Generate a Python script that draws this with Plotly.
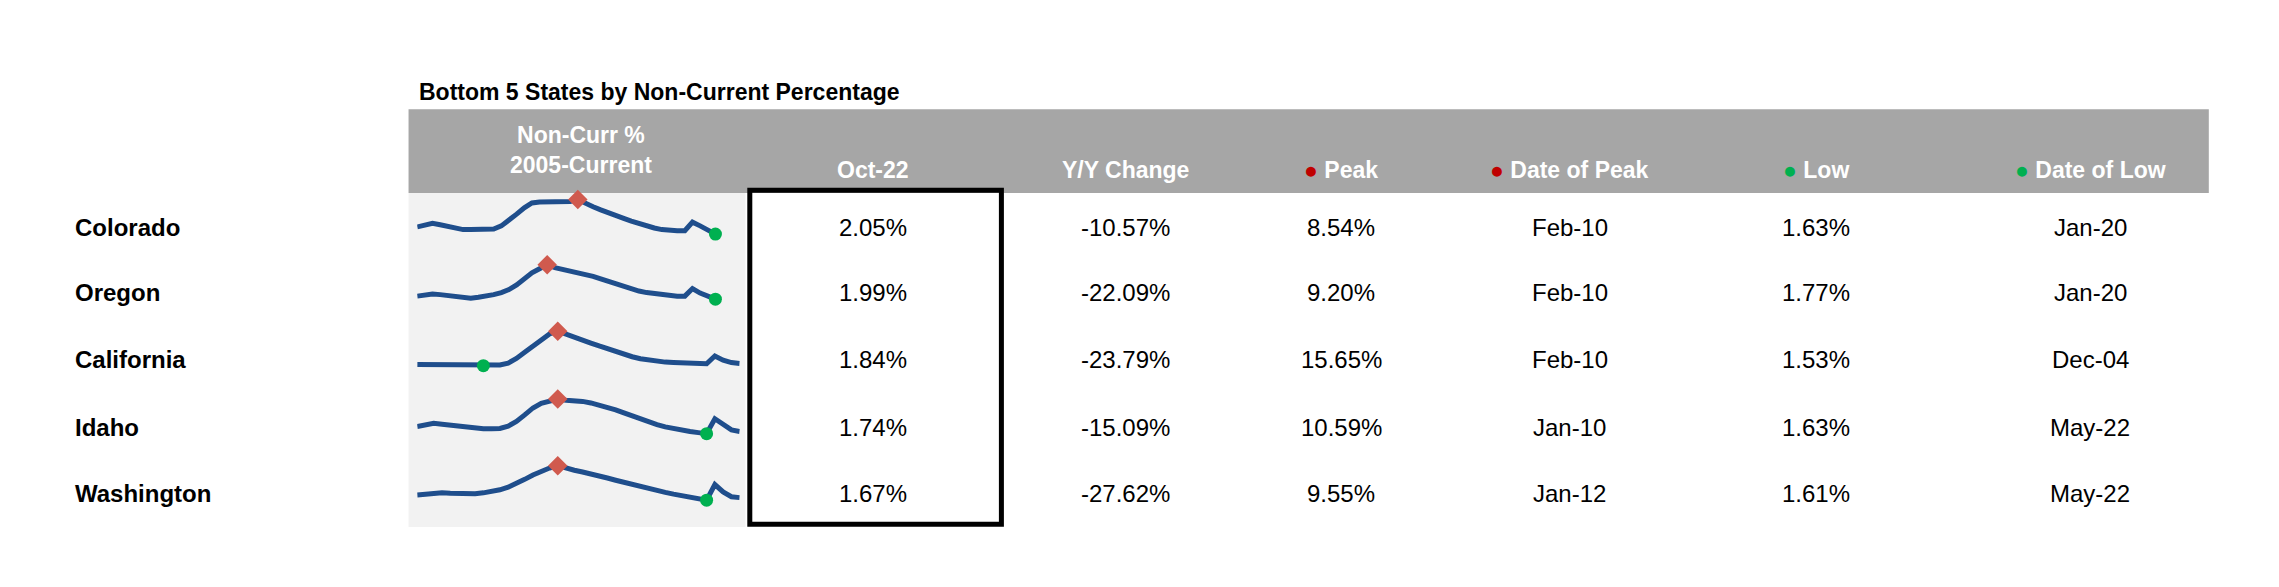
import plotly.graph_objects as go

states = ["Colorado", "Oregon", "California", "Idaho", "Washington"]
oct22 = ["2.05%", "1.99%", "1.84%", "1.74%", "1.67%"]
yoy = ["-10.57%", "-22.09%", "-23.79%", "-15.09%", "-27.62%"]
peak = ["8.54%", "9.20%", "15.65%", "10.59%", "9.55%"]
peak_date = ["Feb-10", "Feb-10", "Feb-10", "Jan-10", "Jan-12"]
low = ["1.63%", "1.77%", "1.53%", "1.63%", "1.61%"]
low_date = ["Jan-20", "Jan-20", "Dec-04", "May-22", "May-22"]

# sparkline series (non-current %, 2005-current, sampled)
spark = [
    [3.4, 3.7, 4.1, 3.8, 3.5, 3.1, 2.9, 2.9, 2.9, 2.9, 3.0, 3.6, 4.6, 5.8, 7.0, 7.9, 8.1, 8.1, 8.1, 8.1,
     8.2, 8.54, 7.8, 7.2, 6.6, 6.0, 5.5, 5.0, 4.5, 4.0, 3.6, 3.2, 2.9, 2.7, 2.7, 2.7, 4.3, 3.6, 2.8, 2.05],
    [3.0, 3.2, 3.4, 3.3, 3.1, 2.9, 2.7, 2.6, 2.8, 3.0, 3.3, 3.7, 4.3, 5.2, 6.4, 7.6, 8.4, 9.2, 8.6, 8.3,
     8.0, 7.7, 7.3, 6.9, 6.4, 5.9, 5.4, 4.9, 4.4, 4.0, 3.7, 3.5, 3.3, 3.1, 3.0, 3.0, 4.5, 3.6, 3.0, 2.4],
    [2.0, 2.0, 1.9, 1.9, 1.8, 1.8, 1.7, 1.6, 1.53, 1.6, 1.8, 2.6, 4.5, 7.0, 9.5, 12.0, 14.5, 15.65, 14.3, 13.2,
     12.0, 10.8, 9.6, 8.4, 7.2, 6.2, 5.2, 4.4, 3.8, 3.3, 3.0, 2.8, 2.6, 2.5, 2.4, 2.3, 5.5, 3.8, 2.8, 2.4],
    [3.5, 4.0, 4.3, 4.1, 3.8, 3.5, 3.2, 3.0, 2.9, 2.9, 3.0, 3.6, 4.8, 6.5, 8.3, 9.5, 10.2, 10.59, 10.3, 10.2,
     10.0, 9.6, 9.1, 8.5, 7.8, 7.0, 6.2, 5.4, 4.7, 4.0, 3.4, 2.9, 2.5, 2.2, 1.9, 1.63, 5.5, 4.0, 2.6, 2.2],
    [2.8, 3.0, 3.2, 3.3, 3.2, 3.1, 3.0, 3.1, 3.3, 3.6, 4.0, 4.6, 5.4, 6.4, 7.4, 8.3, 9.0, 9.55, 8.9, 8.5,
     8.1, 7.7, 7.2, 6.7, 6.2, 5.7, 5.2, 4.7, 4.2, 3.8, 3.4, 3.0, 2.6, 2.3, 2.0, 1.61, 5.2, 3.5, 2.4, 2.2],
]
low_idx = [39, 39, 8, 35, 35]

W, H = 2279, 587
S = 1.446


def px(x):
    return x * S / W


def py(y):
    return 1 - (y - 3) * S / H


fig = go.Figure()
row_y = [155, 200, 246, 293, 339]
layout_axes = {}
for i, vals in enumerate(spark):
    n = str(i + 1) if i else ""
    xs = list(range(len(vals)))
    pk = vals.index(max(vals))
    li = low_idx[i]
    fig.add_trace(go.Scatter(x=xs, y=vals, mode="lines", line=dict(color="#1f4e8c", width=5),
                             xaxis="x" + n, yaxis="y" + n, showlegend=False, hoverinfo="skip"))
    fig.add_trace(go.Scatter(x=[pk], y=[vals[pk]], mode="markers",
                             marker=dict(symbol="diamond", color="#d05a4e", size=15),
                             xaxis="x" + n, yaxis="y" + n, showlegend=False))
    fig.add_trace(go.Scatter(x=[li], y=[vals[li]], mode="markers",
                             marker=dict(symbol="circle", color="#00b050", size=13),
                             xaxis="x" + n, yaxis="y" + n, showlegend=False))
    cy = row_y[i] - 4
    layout_axes["xaxis" + n] = dict(domain=[px(283), px(506)], visible=False, anchor="y" + n)
    layout_axes["yaxis" + n] = dict(domain=[py(cy + 16), py(cy - 24)], visible=False, anchor="x" + n)

shapes = [
    dict(type="rect", xref="paper", yref="paper", x0=px(277), x1=px(1522), y0=py(131), y1=py(73),
         fillcolor="#a6a6a6", line_width=0, layer="below"),
    dict(type="rect", xref="paper", yref="paper", x0=px(277), x1=px(510), y0=py(362), y1=py(131),
         fillcolor="#f2f2f2", line_width=0, layer="below"),
    dict(type="rect", xref="paper", yref="paper", x0=px(513), x1=px(687), y0=py(360), y1=py(129),
         fillcolor="rgba(0,0,0,0)", line=dict(color="black", width=5)),
]

ann = []


def txt(x, y, s, size=23, color="black", bold=False, anchor="center"):
    if bold:
        s = "<b>" + s + "</b>"
    ann.append(dict(x=px(x), y=py(y), xref="paper", yref="paper", text=s, showarrow=False,
                    xanchor=anchor, yanchor="middle", font=dict(size=size, color=color)))


txt(283, 61, "Bottom 5 States by Non-Current Percentage", size=23, bold=True, anchor="left")
txt(396, 101, "Non-Curr %<br>2005-Current", size=23, color="white", bold=True)
red = "<span style='color:#c00000'>●</span> "
grn = "<span style='color:#00b050'>●</span> "
heads = [(598, "Oct-22"), (773, "Y/Y Change"), (922, red + "Peak"), (1080, red + "Date of Peak"),
         (1250, grn + "Low"), (1440, grn + "Date of Low")]
for x, h in heads:
    txt(x, 115, h, size=23, color="white", bold=True)

cols = [(598, oct22), (773, yoy), (922, peak), (1080, peak_date), (1250, low), (1440, low_date)]
for i, st in enumerate(states):
    txt(45, row_y[i], st, size=24, bold=True, anchor="left")
    for x, c in cols:
        txt(x, row_y[i], c[i], size=24)

fig.update_layout(width=W, height=H, margin=dict(l=0, r=0, t=0, b=0), plot_bgcolor="white",
                  paper_bgcolor="white", font=dict(family="Liberation Sans, Arial"),
                  shapes=shapes, annotations=ann, **layout_axes)
fig.write_html("out.html")
